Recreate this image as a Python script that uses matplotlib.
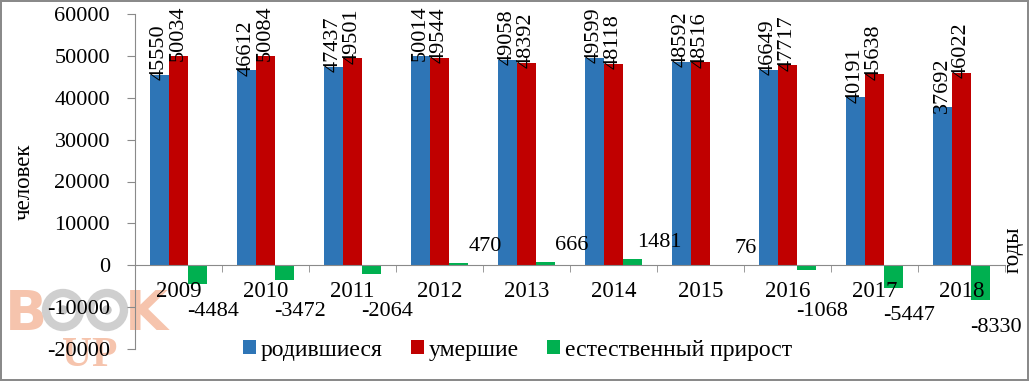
import numpy as np
import matplotlib
matplotlib.use("Agg")
import matplotlib.pyplot as plt
from matplotlib.ticker import MultipleLocator, FixedLocator
from matplotlib.patches import Circle

plt.rcParams['font.family'] = ['Liberation Serif', 'DejaVu Serif']
plt.rcParams['axes.unicode_minus'] = False

years = ["2009", "2010", "2011", "2012", "2013", "2014", "2015", "2016", "2017", "2018"]
born = [45550, 46612, 47437, 50014, 49058, 49599, 48592, 46649, 40191, 37692]
died = [50034, 50084, 49501, 49544, 48392, 48118, 48516, 47717, 45638, 46022]
growth = [-4484, -3472, -2064, 470, 666, 1481, 76, -1068, -5447, -8330]

C_BLUE = "#2E75B6"
C_RED = "#C00000"
C_GREEN = "#00B050"
FS = 16


def main():
    fig = plt.figure(figsize=(10.29, 3.81), dpi=100, linewidth=1.5, edgecolor="#8a8a8a")

    # водяной знак (за осями)
    wm = "#f6c4ad"
    fig.text(26 / 1029, 1 - 315 / 381, "B", color=wm, fontsize=40, fontweight="bold",
             ha="center", va="center", zorder=-5, family="Liberation Sans Narrow")
    fig.text(146 / 1029, 1 - 315 / 381, "K", color=wm, fontsize=40, fontweight="bold",
             ha="center", va="center", zorder=-5, family="Liberation Sans Narrow")
    fig.text(90 / 1029, 1 - 356 / 381, "UP", color=wm, fontsize=30, fontweight="bold",
             ha="center", va="center", zorder=-5)
    for cx in (63, 107):
        fig.patches.append(Circle((cx, 381 - 310), 17, transform=None, fill=False,
                                  ec="#cfcfcf", lw=6, zorder=-4))
        fig.patches.append(Circle((cx, 381 - 310), 4, transform=None,
                                  color="#c4c4c4", zorder=-4))

    ax = fig.add_axes([135 / 1029, 1 - 349 / 381, 870 / 1029, 335 / 381])
    ax.patch.set_alpha(0)

    x = np.arange(len(years))
    w = 0.22
    ax.bar(x - w, born, width=w, color=C_BLUE, label="родившиеся")
    ax.bar(x, died, width=w, color=C_RED, label="умершие")
    ax.bar(x + w, growth, width=w, color=C_GREEN, label="естественный прирост")

    # подписи значений
    for xi, b, d in zip(x, born, died):
        ax.annotate(str(b), (xi - w, b), xytext=(0, -4), textcoords="offset points",
                    rotation=90, ha="center", va="bottom", fontsize=FS, zorder=3)
        ax.annotate(str(d), (xi, d), xytext=(0, -4), textcoords="offset points",
                    rotation=90, ha="center", va="bottom", fontsize=FS, zorder=3)
    for xi, g in zip(x, growth):
        if g >= 0:
            ax.annotate(str(g), (xi + w, g), xytext=(19, 12), textcoords="offset points",
                        ha="center", va="center", fontsize=FS, zorder=3)
        else:
            # отрицательные подписи ниже подписей годов
            ax.annotate(str(g), (xi + w, min(g, -4500)), xytext=(11, -19.5),
                        textcoords="offset points", ha="center", va="center",
                        fontsize=FS, zorder=3)

    ax.set_xlim(-0.5, len(years) - 0.5)
    ax.set_ylim(-20000, 60000)
    ax.yaxis.set_major_locator(MultipleLocator(10000))

    for s in ["top", "right"]:
        ax.spines[s].set_visible(False)
    ax.spines["bottom"].set_position(("data", 0))
    ax.spines["bottom"].set_color("#8a8a8a")
    ax.spines["left"].set_color("#8a8a8a")

    ax.set_xticks(x)
    ax.set_xticklabels(years)
    ax.xaxis.set_minor_locator(FixedLocator(np.arange(-0.5, len(years), 1.0)))
    ax.tick_params(axis="x", which="major", length=0, pad=11, labelsize=FS + 0.5)
    ax.tick_params(axis="x", which="minor", length=5, direction="out", color="#8a8a8a")
    ax.tick_params(axis="y", length=6, direction="out", color="#8a8a8a", labelsize=FS, pad=12)

    ax.set_ylabel("человек", fontsize=FS + 0.5)
    ax.yaxis.set_label_coords(-0.115, 0.5)
    ax.text(1.009, 0.296, "годы", transform=ax.transAxes, rotation=90,
            ha="center", va="center", fontsize=FS + 0.5)

    fig.legend(loc="center", bbox_to_anchor=(0.503, 0.081), ncol=3, frameon=False,
               fontsize=FS + 1, handlelength=0.55, handleheight=0.55, handletextpad=0.2,
               columnspacing=1.2)

    fig.savefig("out.png", dpi=100, edgecolor=fig.get_edgecolor())


if __name__ == "__main__":
    main()
